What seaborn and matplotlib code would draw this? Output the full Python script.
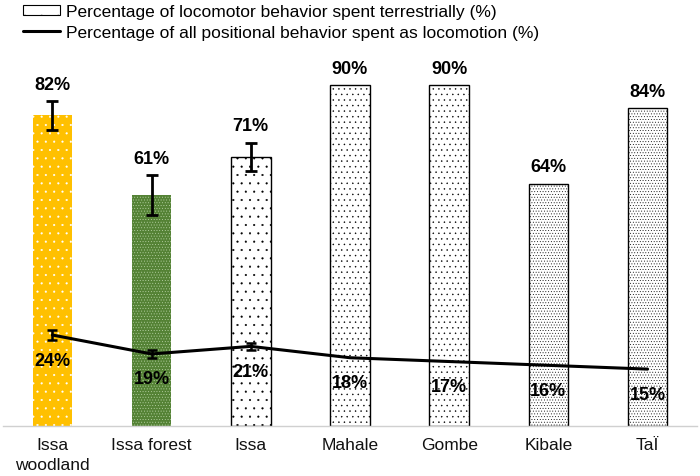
import numpy as np
import pandas as pd
import seaborn as sns
import matplotlib.pyplot as plt
from matplotlib.patches import Patch
from matplotlib.lines import Line2D

sites = ['Issa\nwoodland', 'Issa forest', 'Issa', 'Mahale', 'Gombe', 'Kibale', 'TaÏ']
terrestrial = [82, 61, 71, 90, 90, 64, 84]
terrestrial_err = [3.8, 5.2, 3.8, 0, 0, 0, 0]
locomotion = [24, 19, 21, 18, 17, 16, 15]
locomotion_err = [1.3, 1.0, 0.9, 0, 0, 0, 0]

face_colors = ['#FFC000', '#548235', 'white', 'white', 'white', 'white', 'white']
hatch_colors = ['white', '#bfd8ad', 'black', 'black', 'black', 'black', 'black']
hatches = ['..', '......', '..', '...', '...', '......', '......']
edge_widths = [0, 0, 1, 1, 1, 1, 1]

sns.set_style('white')
plt.rcParams['font.family'] = ['Liberation Sans', 'DejaVu Sans']
plt.rcParams['hatch.linewidth'] = 0.3
plt.rcParams['text.color'] = 'black'

df = pd.DataFrame({'site': sites, 'terrestrial': terrestrial})

fig = plt.figure(figsize=(7, 4.77), dpi=100)
ax = fig.add_axes([0.004, 0.105, 0.992, 0.794])

sns.barplot(data=df, x='site', y='terrestrial', ax=ax, width=0.4,
            color='white', errorbar=None)
for bar, fc, hc, h, lw in zip(ax.patches, face_colors, hatch_colors, hatches, edge_widths):
    bar.set_facecolor(fc)
    bar.set_edgecolor(hc)
    bar.set_hatch(h)
    bar.set_linewidth(lw)

x = np.arange(len(sites))
for i in range(len(sites)):
    if terrestrial_err[i] > 0:
        ax.errorbar(x[i], terrestrial[i], yerr=terrestrial_err[i], color='black',
                    lw=2, capsize=4, capthick=2, zorder=5)
    ax.annotate(f'{terrestrial[i]}%', (x[i], terrestrial[i] + terrestrial_err[i]),
                xytext=(0, 12), textcoords='offset points', ha='center', va='center',
                fontsize=13, fontweight='bold', color='black')

sns.lineplot(x=x, y=locomotion, color='black', lw=2.2, ax=ax, zorder=6)
for i in range(len(sites)):
    if locomotion_err[i] > 0:
        ax.errorbar(x[i], locomotion[i], yerr=locomotion_err[i], color='black',
                    lw=1.8, capsize=3.5, capthick=1.8, zorder=7)
    ax.annotate(f'{locomotion[i]}%', (x[i], locomotion[i]),
                xytext=(0, -18), textcoords='offset points', ha='center', va='center',
                fontsize=13, fontweight='bold', color='black')

ax.set_ylim(0, 100)
ax.set_xlim(-0.5, 6.5)
ax.set_xlabel('')
ax.set_ylabel('')
ax.set_yticks([])
ax.tick_params(axis='x', length=0, labelsize=12.5, colors='#111111', pad=8)
for lab in ax.get_xticklabels():
    lab.set_linespacing(1.45)
for s in ['top', 'right', 'left']:
    ax.spines[s].set_visible(False)
ax.spines['bottom'].set_color('#d0d0d0')
ax.spines['bottom'].set_linewidth(1)

handles = [Patch(facecolor='white', edgecolor='black', hatch='.', linewidth=0.8),
           Line2D([0], [0], color='black', lw=2.2)]
labels = ['Percentage of locomotor behavior spent terrestrially (%)',
          'Percentage of all positional behavior spent as locomotion (%)']
fig.legend(handles, labels, loc='upper left', bbox_to_anchor=(0.013, 1.018),
           frameon=False, fontsize=12.5, handlelength=2.15, handleheight=0.45,
           handletextpad=0.35, labelspacing=0.3, borderpad=0.3)

fig.savefig('out.png', dpi=100)
